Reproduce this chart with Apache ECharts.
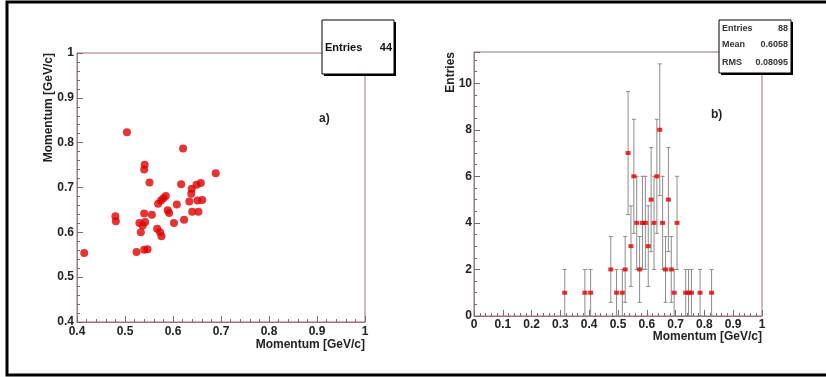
<!DOCTYPE html>
<html>
<head>
<meta charset="utf-8">
<script src="https://cdn.jsdelivr.net/npm/echarts@6/dist/echarts.min.js"></script>
<style>
html,body{margin:0;padding:0;background:#fff;}
#chart{width:826px;height:377px;}
</style>
</head>
<body>
<div id="chart"></div>
<script>
// ---- Data ----
// a) scatter: momentum vs momentum (GeV/c)
var scatterX = [0.415,0.504,0.480,0.481,0.541,0.540,0.551,0.621,0.617,0.689,
                0.639,0.649,0.658,0.638,0.585,0.580,0.575,0.569,0.608,0.634,
                0.651,0.661,0.589,0.592,0.640,0.653,0.540,0.556,0.602,0.623,
                0.530,0.542,0.537,0.533,0.567,0.573,0.576,0.524,0.540,0.547];
var scatterY = [0.554,0.823,0.636,0.625,0.751,0.740,0.711,0.787,0.707,0.732,
                0.697,0.706,0.710,0.686,0.681,0.676,0.671,0.664,0.662,0.669,
                0.671,0.672,0.649,0.643,0.646,0.646,0.642,0.639,0.621,0.628,
                0.621,0.623,0.615,0.600,0.608,0.600,0.591,0.556,0.561,0.562];
// b) histogram: bin centers (GeV/c) and entries
var histCenters = [0.315,0.385,0.405,0.475,0.495,0.515,0.525,0.535,0.545,0.555,
                   0.565,0.575,0.585,0.595,0.605,0.615,0.625,0.635,0.645,0.655,
                   0.665,0.675,0.685,0.695,0.705,0.735,0.745,0.755,0.785,0.825];
var histCounts  = [1,1,1,2,1,1,2,7,3,6,
                   4,2,4,4,3,5,4,6,8,4,
                   2,5,2,1,4,1,1,1,1,1];
// stats box texts
var statsA = {entries: '44'};
var statsB = {entries: '88', mean: '0.6058', rms: '0.08095'};
var axisTitleX = 'Momentum [GeV/c]';
var axisTitleYA = 'Momentum [GeV/c]';
var axisTitleYB = 'Entries';

// ---- Build ----
var FONT = '"Liberation Sans", Arial, Helvetica, sans-serif';
var FRAME = '#a0707a';
var TICK = '#707070';
var RED = '#e00000';

var scatterData = scatterX.map(function(x, i){ return [x, scatterY[i]]; });
var histData = histCenters.map(function(x, i){ return [x, histCounts[i]]; });

function axisCommon(extra) {
  var o = {
    type: 'value',
    axisLine: {show: true, lineStyle: {color: FRAME, width: 1}},
    axisTick: {show: true, inside: true, length: 6, lineStyle: {color: TICK}},
    minorTick: {show: true, splitNumber: 5, length: 3, lineStyle: {color: TICK}},
    splitLine: {show: false},
    axisLabel: {color: '#222', fontFamily: FONT, fontWeight: 'bold', fontSize: 12}
  };
  for (var k in extra) {
    if (typeof extra[k] === 'object' && o[k] && !Array.isArray(extra[k])) {
      for (var j in extra[k]) o[k][j] = extra[k][j];
    } else o[k] = extra[k];
  }
  return o;
}

var chart = echarts.init(document.getElementById('chart'), null, {renderer: 'canvas'});

function statsBoxA() {
  var x = 322, y = 20, w = 72, h = 54;
  return {
    type: 'group', z: 100,
    children: [
      {type: 'rect', shape: {x: x + 2, y: y + 2, width: w, height: h}, style: {fill: '#000'}},
      {type: 'rect', shape: {x: x, y: y, width: w, height: h}, style: {fill: '#fff', stroke: '#000', lineWidth: 1}},
      {type: 'text', x: x + 3, y: y + 28, style: {text: 'Entries', font: 'bold 11px ' + FONT, fill: '#111', textAlign: 'left', textVerticalAlign: 'middle'}},
      {type: 'text', x: x + w - 2, y: y + 28, style: {text: statsA.entries, font: 'bold 11px ' + FONT, fill: '#111', textAlign: 'right', textVerticalAlign: 'middle'}}
    ]
  };
}
function statsBoxB() {
  var x = 719, y = 20, w = 72, h = 53;
  var rows = [['Entries', statsB.entries, 29], ['Mean', statsB.mean, 45], ['RMS', statsB.rms, 63]];
  var ch = [
    {type: 'rect', shape: {x: x + 2, y: y + 2, width: w, height: h}, style: {fill: '#000'}},
    {type: 'rect', shape: {x: x, y: y, width: w, height: h}, style: {fill: '#fff', stroke: '#000', lineWidth: 1}}
  ];
  rows.forEach(function(r){
    ch.push({type: 'text', x: x + 3, y: r[2], style: {text: r[0], font: 'bold 9px ' + FONT, fill: '#333', textAlign: 'left', textVerticalAlign: 'middle'}});
    ch.push({type: 'text', x: x + w - 3, y: r[2], style: {text: r[1], font: 'bold 9px ' + FONT, fill: '#333', textAlign: 'right', textVerticalAlign: 'middle'}});
  });
  return {type: 'group', z: 100, children: ch};
}

var option = {
  backgroundColor: '#fff',
  animation: false,
  grid: [
    {left: 77, top: 53, width: 288, height: 269, show: true, borderColor: FRAME, borderWidth: 1, backgroundColor: 'transparent'},
    {left: 474, top: 52, width: 288, height: 264, show: true, borderColor: FRAME, borderWidth: 1, backgroundColor: 'transparent'}
  ],
  xAxis: [
    axisCommon({gridIndex: 0, min: 0.4, max: 1, interval: 0.1, axisLabel: {margin: 4}}),
    axisCommon({gridIndex: 1, min: 0, max: 1, interval: 0.1, axisLabel: {margin: 3}})
  ],
  yAxis: [
    axisCommon({gridIndex: 0, min: 0.4, max: 1, interval: 0.1, axisLine: {show: true, lineStyle: {color: '#888', width: 1}}, axisLabel: {margin: 3}}),
    axisCommon({gridIndex: 1, min: 0, max: 11.34, interval: 2,
      minorTick: {show: true, splitNumber: 4, length: 3, lineStyle: {color: TICK}},
      axisLine: {show: true, lineStyle: {color: '#888', width: 1}},
      axisLabel: {margin: 2, showMaxLabel: false, formatter: function(v){ return (Math.abs(v - Math.round(v)) < 1e-6) ? String(Math.round(v)) : ''; }}})
  ],
  series: [
    {
      type: 'scatter', xAxisIndex: 0, yAxisIndex: 0,
      data: scatterData, symbol: 'circle', symbolSize: 8,
      itemStyle: {color: RED}, z: 5
    },
    {
      type: 'custom', xAxisIndex: 1, yAxisIndex: 1,
      data: histData,
      renderItem: function(params, api) {
        var x = api.value(0), n = api.value(1), e = Math.sqrt(n);
        var top = api.coord([x, n + e]);
        var bot = api.coord([x, Math.max(0, n - e)]);
        var cw = 2;
        var st = {stroke: '#8c8c8c', lineWidth: 1};
        return {
          type: 'group',
          children: [
            {type: 'line', shape: {x1: top[0], y1: top[1], x2: bot[0], y2: bot[1]}, style: st},
            {type: 'line', shape: {x1: top[0] - cw, y1: top[1], x2: top[0] + cw, y2: top[1]}, style: st},
            {type: 'line', shape: {x1: bot[0] - cw, y1: bot[1], x2: bot[0] + cw, y2: bot[1]}, style: st}
          ]
        };
      },
      z: 3
    },
    {
      type: 'scatter', xAxisIndex: 1, yAxisIndex: 1,
      data: histData, symbol: 'rect', symbolSize: [5, 4],
      itemStyle: {color: RED}, z: 6
    }
  ],
  graphic: [
    // outer frame
    {type: 'rect', z: 90, shape: {x: 7, y: 2, width: 830, height: 373}, style: {fill: 'none', stroke: '#000', lineWidth: 3}},
    // axis titles
    {type: 'text', z: 90, x: 365, y: 345, style: {text: axisTitleX, font: 'bold 12px ' + FONT, fill: '#222', textAlign: 'right', textVerticalAlign: 'middle'}},
    {type: 'text', z: 90, x: 762, y: 337, style: {text: axisTitleX, font: 'bold 12px ' + FONT, fill: '#222', textAlign: 'right', textVerticalAlign: 'middle'}},
    {type: 'text', z: 90, x: 49, y: 53, rotation: Math.PI / 2, style: {text: axisTitleYA, font: 'bold 12px ' + FONT, fill: '#222', textAlign: 'right', textVerticalAlign: 'middle'}},
    {type: 'text', z: 90, x: 451, y: 52, rotation: Math.PI / 2, style: {text: axisTitleYB, font: 'bold 12px ' + FONT, fill: '#222', textAlign: 'right', textVerticalAlign: 'middle'}},
    // panel labels
    {type: 'text', z: 90, x: 319, y: 119, style: {text: 'a)', font: 'bold 12px ' + FONT, fill: '#222', textAlign: 'left', textVerticalAlign: 'middle'}},
    {type: 'text', z: 90, x: 711, y: 115, style: {text: 'b)', font: 'bold 12px ' + FONT, fill: '#222', textAlign: 'left', textVerticalAlign: 'middle'}},
    statsBoxA(),
    statsBoxB()
  ]
};
chart.setOption(option);
</script>
</body>
</html>
